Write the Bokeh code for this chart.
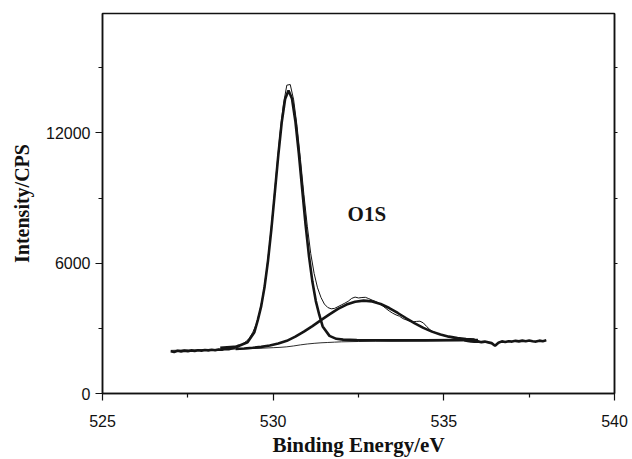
import numpy as np
from bokeh.plotting import figure
from bokeh.models import Range1d, FixedTicker, LinearAxis, Label
from bokeh.embed import file_html
from bokeh.resources import INLINE

# Measured O1s spectrum (binding energy grid 527.0 .. 538.0 eV, step 0.1 eV)
energy = np.round(np.arange(527.0, 538.05, 0.1), 1)
counts = [1950, 1915, 1965, 1940, 1975, 1950, 1985, 1960, 1995, 1975,
          2005, 1985, 2015, 1995, 2030, 2015, 2045, 2040, 2080, 2130,
          2212, 2275, 2385, 2545, 2808, 3169, 3735, 4527, 5580, 6960,
          8562, 10298, 11969, 13320, 14200, 14230, 13524, 12311, 10775, 9170,
          7702, 6453, 5529, 4867, 4426, 4120, 3960, 3900, 3920, 4000,
          4080, 4160, 4250, 4380, 4440, 4400, 4420, 4430, 4370, 4300,
          4240, 4160, 4050, 3920, 3800, 3700, 3620, 3560, 3450, 3390,
          3330, 3300, 3320, 3330, 3250, 3080, 2930, 2840, 2770, 2720,
          2670, 2620, 2580, 2540, 2510, 2480, 2450, 2420, 2395, 2380,
          2400, 2365, 2390, 2355, 2320, 2200, 2340, 2400, 2375, 2410,
          2390, 2425, 2400, 2435, 2410, 2440, 2405, 2390, 2435, 2410,
          2450]

# Shirley-type background
bg_x = [527.0, 528.0, 529.0, 529.5, 530.0, 530.2, 530.4, 530.6, 530.8, 531.0,
        531.2, 531.4, 531.6, 531.8, 532.0, 532.5, 533.0, 534.0, 535.0, 536.0]
bg_y = [1985, 2020, 2050, 2075, 2110, 2125, 2150, 2190, 2240, 2280,
        2310, 2335, 2350, 2365, 2380, 2395, 2410, 2425, 2440, 2450]

# Fitted component 1 (~530.45 eV)
p1_x = [528.45, 528.95, 529.25, 529.45, 529.55, 529.65, 529.75, 529.85, 529.95, 530.05,
        530.15, 530.25, 530.35, 530.45, 530.55, 530.65, 530.75, 530.85, 530.95, 531.05,
        531.15, 531.25, 531.35, 531.45, 531.65, 531.85, 532.05, 532.45, 532.95, 533.45,
        534.45, 535.45, 536.0]
p1_y = [2100, 2163, 2362, 2822, 3378, 4024, 4930, 6127, 7605, 9274,
        10971, 12478, 13558, 13950, 13590, 12550, 11078, 9410, 7770, 6318,
        5143, 4256, 3629, 3089, 2654, 2518, 2482, 2458, 2449, 2447,
        2447, 2459, 2465]

# Fitted component 2 (~532.65 eV)
p2_x = [528.9, 529.15, 529.4, 529.65, 529.9, 530.15, 530.4, 530.65, 530.9, 531.15,
        531.4, 531.65, 531.9, 532.15, 532.4, 532.65, 532.9, 533.15, 533.4, 533.65,
        533.9, 534.15, 534.4, 534.65, 534.9, 535.15, 535.4, 535.65, 535.9]
p2_y = [2055, 2075, 2105, 2146, 2211, 2298, 2427, 2617, 2850, 3105,
        3376, 3642, 3893, 4095, 4229, 4278, 4241, 4123, 3936, 3708,
        3465, 3231, 3021, 2849, 2715, 2618, 2552, 2510, 2484]

x_ticks = [525, 530, 535, 540]
x_minor = [527.5, 532.5, 537.5]
y_ticks = [0, 6000, 12000]
y_minor = [3000, 9000, 15000]
right_ticks = [3000, 6000, 9000, 12000, 15000]

p = figure(width=632, height=459, x_range=Range1d(525, 540), y_range=Range1d(0, 17500),
           output_backend="svg", toolbar_location=None,
           min_border_left=102, min_border_right=18, min_border_top=13, min_border_bottom=64)
p.grid.visible = False
p.background_fill_color = "white"
p.border_fill_color = "white"
p.outline_line_color = "#111111"
p.outline_line_width = 1.5

for ax in (p.xaxis[0], p.yaxis[0]):
    ax.axis_line_color = "#111111"
    ax.axis_line_width = 1.5
    ax.major_tick_line_color = "#111111"
    ax.minor_tick_line_color = "#111111"
    ax.major_tick_line_width = 1.2
    ax.minor_tick_line_width = 1.2
    ax.major_tick_in = 0
    ax.major_tick_out = 7
    ax.minor_tick_in = 0
    ax.minor_tick_out = 4
    ax.major_label_text_font = "Liberation Sans"
    ax.major_label_text_font_size = "16px"
    ax.major_label_text_color = "#111111"
    ax.axis_label_text_font = "Liberation Serif"
    ax.axis_label_text_font_style = "bold"
    ax.axis_label_text_color = "#111111"

p.xaxis.ticker = FixedTicker(ticks=x_ticks, minor_ticks=x_minor)
p.yaxis.ticker = FixedTicker(ticks=y_ticks, minor_ticks=y_minor)
p.xaxis.axis_label = "Binding Energy/eV"
p.yaxis.axis_label = "Intensity/CPS"
p.xaxis.axis_label_text_font_size = "21px"
p.yaxis.axis_label_text_font_size = "20px"
p.xaxis.major_label_standoff = 14
p.xaxis.axis_label_standoff = 3
p.yaxis.major_label_standoff = 5
p.yaxis.axis_label_standoff = 10

# right frame: small tick marks only (no labels)
right = LinearAxis(ticker=FixedTicker(ticks=[], minor_ticks=right_ticks),
                   major_tick_out=0, major_tick_in=0, minor_tick_in=0, minor_tick_out=3,
                   axis_line_color="#111111", axis_line_width=1.5,
                   minor_tick_line_color="#111111", minor_tick_line_width=1.2)
p.add_layout(right, "right")

ink = "#151515"
# background (thin)
p.line(bg_x, bg_y, line_color=ink, line_width=0.9)
# raw data (thin across the peaks)
p.line(energy, counts, line_color=ink, line_width=1.0)
# fitted components (thick)
p.line(p1_x, p1_y, line_color=ink, line_width=2.6)
p.line(p2_x, p2_y, line_color=ink, line_width=2.6)
# raw data outside the fit window drawn thick
p.line(energy[:21], counts[:21], line_color=ink, line_width=2.6)
p.line(energy[86:], counts[86:], line_color=ink, line_width=2.6)

p.add_layout(Label(x=532.18, y=8245, text="O1S", text_font="Liberation Serif",
                   text_font_style="bold", text_font_size="21px", text_color=ink,
                   text_baseline="middle", text_align="left"))

open("out.html", "w").write(file_html(p, INLINE))
